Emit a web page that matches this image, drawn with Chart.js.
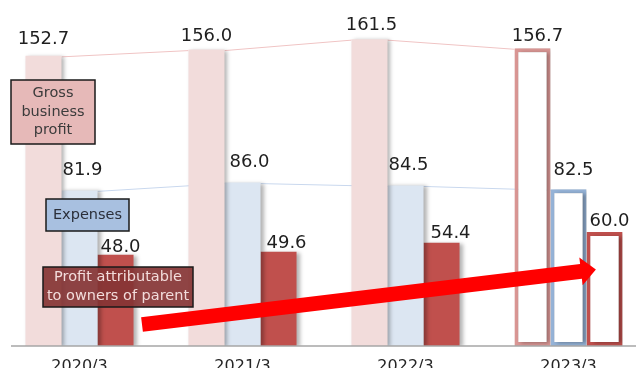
<!DOCTYPE html>
<html>
<head>
<meta charset="utf-8">
<script src="https://cdn.jsdelivr.net/npm/chart.js@4.4.1/dist/chart.umd.min.js"></script>
<style>
    html, body { margin: 0; padding: 0; background: #fff; overflow: hidden; width: 636px; height: 368px; }
    #wrap { position: absolute; left: -2px; top: 0; width: 652px; height: 368px; }
</style>
</head>
<body>
<div id="wrap"><canvas id="chart" width="652" height="368"></canvas></div>
<script>
// data
const years = ['2020/3', '2021/3', '2022/3', '2023/3'];
const grossProfit = [152.7, 156.0, 161.5, 156.7];
const expenses = [81.9, 86.0, 84.5, 82.5];
const ownersProfit = [48.0, 49.6, 54.4, 60.0];

// the canvas sits 2px left of the page
const OX = 2;
const FONT = '"DejaVu Sans", Verdana, sans-serif';

// value label nudges (x, gap above bar)
const labelDx = [[0, 0, 2, 5], [3, 7, 3, 5], [5, 8, 9, 5]];
const labelGap = [[12, 9, 9, 7], [15, 16, 15, 14], [3, 4, 5, 6]];

// last year is a forecast: outlined bars
const fillOf = (color, n) => years.map((y, i) => i === n ? '#ffffff' : color);
const widthOf = n => years.map((y, i) => i === n ? 4 : 0);

const decor = {
    id: 'decor',
    beforeDatasetsDraw(chart) {
        const ctx = chart.ctx;
        // thin connectors between bar tops
        const lineColors = ['#f0c4c4', '#c9d8ee'];
        [0, 1].forEach(di => {
            const bars = chart.getDatasetMeta(di).data;
            ctx.save();
            ctx.strokeStyle = lineColors[di];
            ctx.lineWidth = 1;
            for (let i = 0; i < bars.length - 1; i++) {
                const a = bars[i], b = bars[i + 1];
                ctx.beginPath();
                ctx.moveTo(a.x + a.width / 2, a.y + 1);
                ctx.lineTo(b.x - b.width / 2, b.y + 1);
                ctx.stroke();
            }
            ctx.restore();
        });
        // shadow for the bars
        ctx.save();
        ctx.shadowColor = 'rgba(0,0,0,0.3)';
        ctx.shadowBlur = 4;
        ctx.shadowOffsetX = 3;
        ctx.shadowOffsetY = 1;
    },
    afterDatasetsDraw(chart) {
        const ctx = chart.ctx;
        ctx.restore();

        // baseline
        const base = chart.scales.y.getPixelForValue(0);
        ctx.save();
        ctx.strokeStyle = '#a6a6a6';
        ctx.lineWidth = 1.5;
        ctx.beginPath();
        ctx.moveTo(11 + OX, base);
        ctx.lineTo(chart.width, base);
        ctx.stroke();
        ctx.restore();

        // value labels
        ctx.save();
        ctx.font = '18px ' + FONT;
        ctx.fillStyle = '#1f1f1f';
        ctx.textAlign = 'center';
        ctx.textBaseline = 'alphabetic';
        chart.data.datasets.forEach((ds, di) => {
            chart.getDatasetMeta(di).data.forEach((bar, i) => {
                ctx.fillText(ds.data[i].toFixed(1), bar.x + labelDx[di][i], bar.y - labelGap[di][i]);
            });
        });
        ctx.restore();

        // legend boxes
        const box = (x, y, w, h, fill, textColor, lines, lh) => {
            ctx.save();
            ctx.fillStyle = fill;
            ctx.fillRect(x + OX, y, w, h);
            ctx.strokeStyle = '#1a1a1a';
            ctx.lineWidth = 1.5;
            ctx.strokeRect(x + OX, y, w, h);
            ctx.font = '14.5px ' + FONT;
            ctx.fillStyle = textColor;
            ctx.textAlign = 'center';
            ctx.textBaseline = 'middle';
            const cy = y + h / 2 - (lines.length - 1) * lh / 2;
            lines.forEach((t, k) => ctx.fillText(t, x + OX + w / 2, cy + k * lh));
            ctx.restore();
        };
        box(11, 80, 84, 64, '#e6b9b8', '#3b3b3b', ['Gross', 'business', 'profit'], 18.3);
        box(46, 199, 83, 32, '#a8c0e0', '#2b2f3a', ['Expenses'], 18);
        box(43, 267, 150, 40, 'rgba(134,52,52,0.92)', '#f2dcdb', ['Profit attributable', 'to owners of parent'], 19);

        // growth arrow
        const sx = 142 + OX, sy = 324.5;
        const bx = 581 + OX, by = 271.4;
        const len = Math.hypot(bx - sx, by - sy);
        const dx = (bx - sx) / len, dy = (by - sy) / len;
        const nx = -dy, ny = dx;
        const hw = 7.4, hh = 14, hl = 15;
        ctx.save();
        ctx.fillStyle = '#ff0000';
        ctx.beginPath();
        ctx.moveTo(sx + nx * hw, sy + ny * hw);
        ctx.lineTo(bx + nx * hw, by + ny * hw);
        ctx.lineTo(bx + nx * hh, by + ny * hh);
        ctx.lineTo(bx + dx * hl, by + dy * hl);
        ctx.lineTo(bx - nx * hh, by - ny * hh);
        ctx.lineTo(bx - nx * hw, by - ny * hw);
        ctx.lineTo(sx - nx * hw, sy - ny * hw);
        ctx.closePath();
        ctx.fill();
        ctx.restore();
    }
};

const ctx = document.getElementById('chart').getContext('2d');
new Chart(ctx, {
    type: 'bar',
    data: {
        labels: years,
        datasets: [
            {
                label: 'Gross business profit',
                data: grossProfit,
                backgroundColor: fillOf('#f2dcdb', 3),
                borderColor: '#d99694',
                borderWidth: widthOf(3),
                borderSkipped: false
            },
            {
                label: 'Expenses',
                data: expenses,
                backgroundColor: fillOf('#dce6f2', 3),
                borderColor: '#95b3d7',
                borderWidth: widthOf(3),
                borderSkipped: false
            },
            {
                label: 'Profit attributable to owners of parent',
                data: ownersProfit,
                backgroundColor: fillOf('#c0504d', 3),
                borderColor: '#c0504d',
                borderWidth: widthOf(3),
                borderSkipped: false
            }
        ]
    },
    options: {
        responsive: false,
        animation: false,
        layout: { padding: { top: 4, left: 0, right: 0, bottom: 0 } },
        datasets: {
            bar: { categoryPercentage: 0.663, barPercentage: 1 }
        },
        scales: {
            x: {
                grid: { display: false, drawTicks: false },
                border: { display: false },
                ticks: {
                    color: '#262626',
                    padding: 11,
                    font: { family: FONT, size: 16 }
                },
                afterFit(scale) { scale.height = 22; }
            },
            y: {
                display: false,
                min: 0,
                max: 180
            }
        },
        plugins: {
            legend: { display: false },
            tooltip: { enabled: false }
        }
    },
    plugins: [decor]
});
</script>
</body>
</html>
